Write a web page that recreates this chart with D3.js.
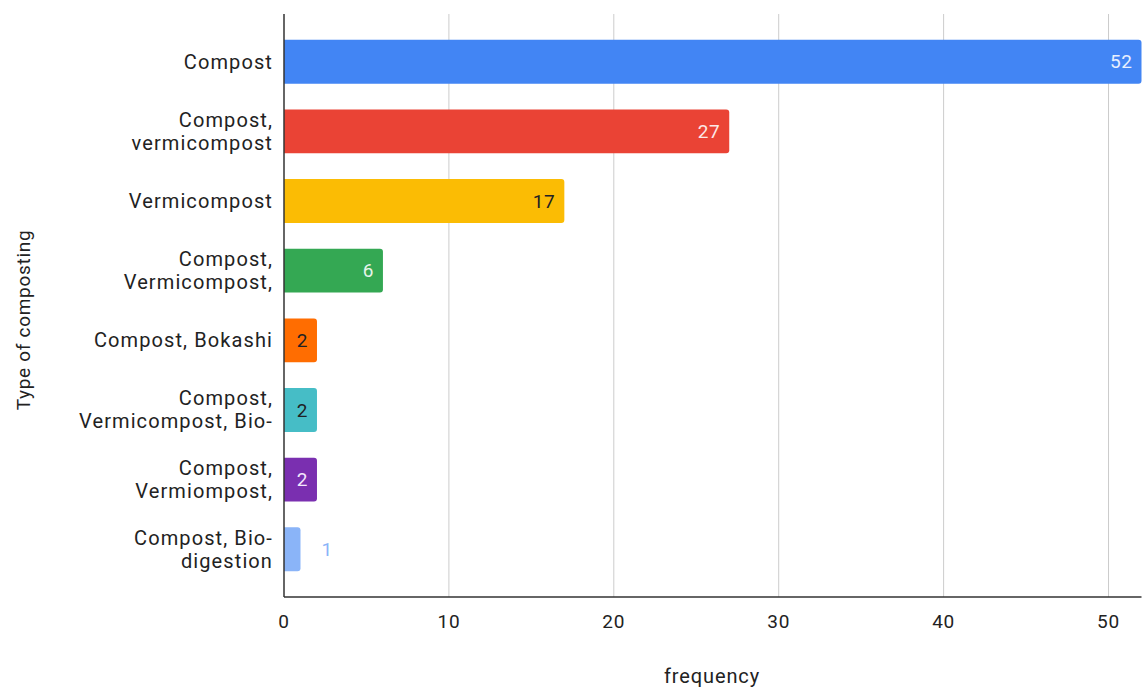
<!DOCTYPE html>
<html>
<head>
<meta charset="utf-8">
<script src="https://cdn.jsdelivr.net/npm/d3@7"></script>
<style>
  body { margin: 0; background: #fff; }
  text { font-family: Roboto, "Liberation Sans", sans-serif; }
</style>
</head>
<body>
<svg id="chart" width="1145" height="690"></svg>
<script>
// chart data
var categories = [
  "Compost",
  "Compost,\nvermicompost",
  "Vermicompost",
  "Compost,\nVermicompost,",
  "Compost, Bokashi",
  "Compost,\nVermicompost, Bio-",
  "Compost,\nVermiompost,",
  "Compost, Bio-\ndigestion"
];
var values = [52, 27, 17, 6, 2, 2, 2, 1];
var barColors = ["#4285f4", "#ea4335", "#fbbc04", "#34a853", "#ff6d01", "#46bdc6", "#7a2fb0", "#8ab4f8"];
var labelColors = ["#e8f0fe", "#fce8e6", "#202124", "#e6f4ea", "#202124", "#202124", "#f3e8fd", "#8ab4f8"];
var xTicks = [0, 10, 20, 30, 40, 50];

var svg = d3.select("#chart");
var plotLeft = 284, plotRight = 1141.5, plotTop = 14, plotBottom = 597;

var x = d3.scaleLinear().domain([0, 52]).range([plotLeft, plotRight]);
var y = d3.scaleBand().domain(d3.range(categories.length)).range([plotTop, plotBottom])
  .paddingInner(0.37).paddingOuter(0.37);

// gridlines
svg.append("g").selectAll("line").data(xTicks.slice(1)).enter().append("line")
  .attr("x1", function (d) { return x(d); }).attr("x2", function (d) { return x(d); })
  .attr("y1", plotTop).attr("y2", plotBottom)
  .style("stroke", "#cccccc").style("stroke-width", 1);

// bars (rounded right end)
svg.append("g").selectAll("path").data(values).enter().append("path")
  .attr("d", function (d, i) {
    var x0 = x(0), x1 = x(d), y0 = y(i), h = y.bandwidth(), r = 3;
    return "M" + x0 + "," + y0 + "H" + (x1 - r) + "Q" + x1 + "," + y0 + " " + x1 + "," + (y0 + r) +
      "V" + (y0 + h - r) + "Q" + x1 + "," + (y0 + h) + " " + (x1 - r) + "," + (y0 + h) + "H" + x0 + "Z";
  })
  .style("fill", function (d, i) { return barColors[i]; });

// value labels
svg.append("g").selectAll("text").data(values).enter().append("text")
  .attr("x", function (d) { return d >= 2 ? x(d) - 9 : x(d) + 21; })
  .attr("y", function (d, i) { return y(i) + y.bandwidth() / 2; })
  .attr("dy", "0.35em")
  .attr("text-anchor", function (d) { return d >= 2 ? "end" : "start"; })
  .style("font-size", "19px").style("letter-spacing", "0.6px")
  .style("fill", function (d, i) { return labelColors[i]; })
  .text(function (d) { return d; });

// axis lines
svg.append("line").attr("x1", plotLeft).attr("x2", plotLeft).attr("y1", plotTop).attr("y2", plotBottom)
  .style("stroke", "#333").style("stroke-width", 1.5);
svg.append("line").attr("x1", plotLeft).attr("x2", plotRight).attr("y1", plotBottom).attr("y2", plotBottom)
  .style("stroke", "#333").style("stroke-width", 1.5);

// x tick labels
svg.append("g").selectAll("text").data(xTicks).enter().append("text")
  .attr("x", function (d) { return x(d); })
  .attr("y", 621).attr("dy", "0.35em")
  .attr("text-anchor", "middle")
  .style("font-size", "19px").style("letter-spacing", "0.8px").style("fill", "#222")
  .text(function (d) { return d; });

// category labels
var cat = svg.append("g").selectAll("text").data(categories).enter().append("text")
  .attr("text-anchor", "end")
  .style("font-size", "20px").style("letter-spacing", "1.1px").style("fill", "#222")
  .attr("transform", function (d, i) { return "translate(273," + (y(i) + y.bandwidth() / 2) + ")"; });
cat.each(function (d) {
  var lines = d.split("\n");
  var t = d3.select(this);
  lines.forEach(function (ln, k) {
    t.append("tspan").attr("x", 0)
      .attr("y", (k - (lines.length - 1) / 2) * 23)
      .attr("dy", "0.35em")
      .text(ln);
  });
});

// axis titles
svg.append("text").attr("x", 712).attr("y", 676).attr("dy", "0.35em")
  .attr("text-anchor", "middle")
  .style("font-size", "20px").style("letter-spacing", "0.9px").style("fill", "#222")
  .text("frequency");
svg.append("text").attr("transform", "translate(23,320) rotate(-90)")
  .attr("dy", "0.35em").attr("text-anchor", "middle")
  .style("font-size", "19px").style("letter-spacing", "0.7px").style("fill", "#222")
  .text("Type of composting");
</script>
</body>
</html>
